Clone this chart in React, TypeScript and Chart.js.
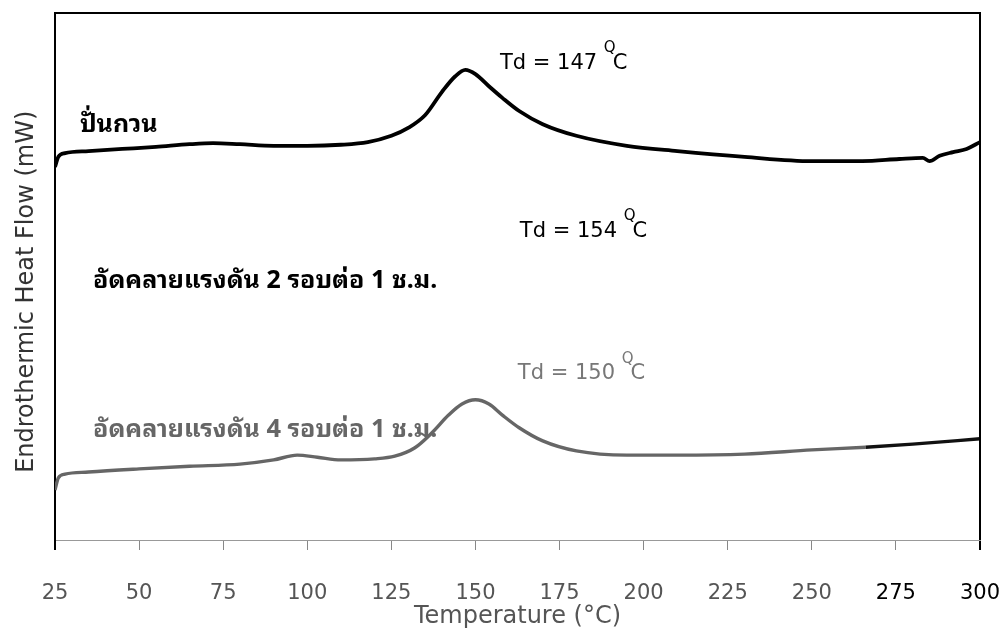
import React, { useEffect, useRef } from "react";
import { Chart, registerables } from "chart.js";

Chart.register(...registerables);

// ---- data ----
const tempsStirred = [25, 26, 28, 35, 45, 55, 65, 72, 80, 90, 100, 110, 118, 125, 130, 135, 140, 144, 147, 150, 154, 158, 163, 170, 180, 195, 210, 230, 250, 265, 276, 283, 285, 288, 292, 296, 300];
const flowStirred = [70.8, 72.7, 73.4, 73.8, 74.2, 74.6, 75.1, 75.3, 75.1, 74.8, 74.8, 75.0, 75.5, 76.7, 78.2, 80.6, 85.0, 88.0, 89.2, 88.4, 86.1, 83.9, 81.4, 78.9, 76.7, 74.8, 73.8, 72.7, 71.9, 71.9, 72.3, 72.5, 71.9, 72.9, 73.6, 74.2, 75.5];

const tempsPress4 = [25, 26, 28, 35, 50, 65, 80, 90, 97, 103, 110, 120, 126, 132, 137, 142, 146, 150, 154, 158, 163, 170, 180, 195, 210, 230, 250, 266, 280, 300];
const flowPress4 = [9.5, 11.8, 12.5, 12.9, 13.5, 14.0, 14.4, 15.2, 16.1, 15.7, 15.2, 15.4, 15.9, 17.5, 20.3, 23.7, 25.8, 26.6, 25.8, 23.7, 21.3, 18.8, 16.9, 16.1, 16.1, 16.3, 17.1, 17.6, 18.2, 19.2];

const xTickValues = [25, 50, 75, 100, 125, 150, 175, 200, 225, 250, 275, 300];
const seriesNames = ["ปั่นกวน", "อัดคลายแรงดัน 2 รอบต่อ 1 ช.ม.", "อัดคลายแรงดัน 4 รอบต่อ 1 ช.ม."];
const tdTexts = ["Td = 147", "Td = 154", "Td = 150"];
const xTitle = "Temperature (°C)";
const yTitle = "Endrothermic Heat Flow (mW)";

// ---- annotation placement (in data units) ----
const THAI_FONT = "'Noto Sans Thai Looped', 'Noto Sans Thai', 'Noto Sans Thai UI', Tahoma, 'Noto Sans', 'DejaVu Sans', sans-serif";
const nameNotes = [
  { text: seriesNames[0], x: 32.4, y: 78.7, color: "#000" },
  { text: seriesNames[1], x: 36.3, y: 49.1, color: "#000" },
  { text: seriesNames[2], x: 36.3, y: 20.9, color: "#666" },
];
const tdNotes = [
  { text: tdTexts[0], x: 157.3, y: 90.5, color: "#000" },
  { text: tdTexts[1], x: 163.2, y: 58.6, color: "#000" },
  { text: tdTexts[2], x: 162.6, y: 31.5, color: "#777" },
];

const notesPlugin = {
  id: "notes",
  afterDatasetsDraw(chart: any) {
    const { ctx, scales } = chart;
    const xs = scales.x;
    const ys = scales.y;
    ctx.save();
    // frame: top and right border
    const a = chart.chartArea;
    ctx.strokeStyle = "#000";
    ctx.lineWidth = 2;
    ctx.beginPath();
    ctx.moveTo(a.left - 1, a.top);
    ctx.lineTo(a.right, a.top);
    ctx.lineTo(a.right, a.bottom);
    ctx.stroke();

    ctx.textBaseline = "middle";
    ctx.textAlign = "left";
    for (const n of nameNotes) {
      ctx.fillStyle = n.color;
      ctx.font = `bold 25px ${THAI_FONT}`;
      ctx.fillText(n.text, xs.getPixelForValue(n.x), ys.getPixelForValue(n.y));
    }
    for (const n of tdNotes) {
      const px = xs.getPixelForValue(n.x);
      const py = ys.getPixelForValue(n.y);
      ctx.fillStyle = n.color;
      ctx.font = "21px 'DejaVu Sans', sans-serif";
      ctx.fillText(n.text, px, py);
      const w = ctx.measureText(n.text + " ").width;
      ctx.font = "15px 'DejaVu Sans', sans-serif";
      ctx.fillText("Q", px + w, py - 15);
      const wq = ctx.measureText("Q").width;
      ctx.font = "21px 'DejaVu Sans', sans-serif";
      ctx.fillText("C", px + w + wq - 3, py);
    }
    ctx.restore();
  },
};

export default function App() {
  const ref = useRef<HTMLCanvasElement>(null);
  useEffect(() => {
    document.body.style.margin = "0";
    document.body.style.background = "#fff";
    if (!ref.current) return;
    const chart = new Chart(ref.current, {
      type: "line",
      data: {
        datasets: [
          {
            label: seriesNames[0],
            data: tempsStirred.map((t, i) => ({ x: t, y: flowStirred[i] })),
            borderColor: "#000",
            borderWidth: 3.8,
            pointRadius: 0,
            cubicInterpolationMode: "monotone",
          },
          {
            label: seriesNames[2],
            data: tempsPress4.map((t, i) => ({ x: t, y: flowPress4[i] })),
            borderColor: "#666",
            borderWidth: 3.4,
            pointRadius: 0,
            cubicInterpolationMode: "monotone",
            segment: {
              borderColor: (c: any) => (c.p0.parsed.x >= 266 ? "#111" : "#666"),
            },
          },
        ],
      },
      options: {
        animation: false,
        responsive: true,
        maintainAspectRatio: false,
        layout: { padding: { top: 13, right: 27, left: 0, bottom: 0 } },
        plugins: { legend: { display: false }, tooltip: { enabled: false } },
        scales: {
          x: {
            type: "linear",
            min: 25,
            max: 300,
            afterFit: (s: any) => {
              s.height = 101;
              s.paddingLeft = 0;
              s.paddingRight = 0;
            },
            afterBuildTicks: (s: any) => {
              s.ticks = xTickValues.map((v) => ({ value: v }));
            },
            ticks: {
              padding: 31,
              maxRotation: 0,
              autoSkip: false,
              color: (c: any) => (c.tick && c.tick.value >= 275 ? "#000" : "#555"),
              font: { family: "'DejaVu Sans', Verdana, sans-serif", size: 21 },
            },
            grid: {
              drawOnChartArea: false,
              drawTicks: true,
              tickLength: 10,
              color: (c: any) => (c.tick && (c.tick.value === 25 || c.tick.value === 300) ? "#000" : "#888"),
              lineWidth: (c: any) => (c.tick && (c.tick.value === 25 || c.tick.value === 300) ? 2 : 1),
            },
            border: { display: true, color: "#999", width: 1, dash: [6, 10] },
            title: {
              display: true,
              text: xTitle,
              color: "#555",
              font: { family: "'DejaVu Sans', Verdana, sans-serif", size: 24 },
              padding: { top: 0, bottom: 10 },
            },
          },
          y: {
            type: "linear",
            min: 0,
            max: 100,
            afterFit: (s: any) => {
              s.width = 55;
            },
            ticks: { display: false },
            grid: { display: false },
            border: { display: true, color: "#000", width: 2 },
            title: {
              display: true,
              text: yTitle + "    ",
              color: "#333",
              font: { family: "'DejaVu Sans', Verdana, sans-serif", size: 24 },
              padding: { top: 12, bottom: 0 },
            },
          },
        },
      },
      plugins: [notesPlugin],
    } as any);
    return () => chart.destroy();
  }, []);

  return (
    <div style={{ width: 1007, height: 641, position: "relative", overflow: "hidden" }}>
      <canvas ref={ref} />
    </div>
  );
}
